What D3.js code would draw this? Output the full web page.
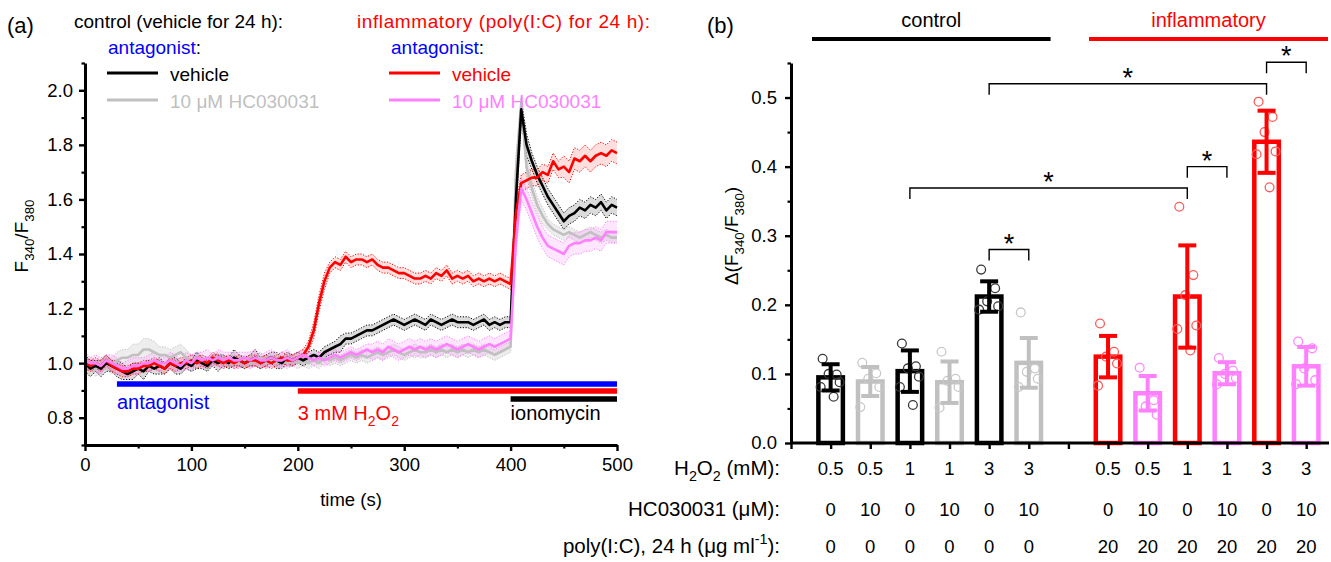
<!DOCTYPE html>
<html>
<head>
<meta charset="utf-8">
<script src="https://cdn.jsdelivr.net/npm/d3@7"></script>
<style>
body { margin: 0; background: #fff; }
svg { font-family: "Liberation Sans", Arial, sans-serif; }
</style>
</head>
<body>
<svg id="fig" width="1331" height="562"></svg>
<script>
// ---------- panel (a): time course, sampled every 5 s ----------
const times = d3.range(0, 501, 5);

const ctrlVeh = [
  1.00,0.98,0.99,0.98,1.00,0.99,0.98,0.97,0.96,0.97,
  0.98,0.97,0.99,0.98,0.99,0.98,1.00,0.99,0.98,1.00,
  0.99,1.01,1.00,0.99,1.01,1.00,1.01,1.00,1.02,1.01,
  1.00,1.01,1.02,1.00,1.01,1.02,1.01,1.00,1.02,1.01,
  1.02,1.01,1.02,1.03,1.02,1.04,1.05,1.06,1.07,1.09,
  1.09,1.10,1.11,1.12,1.12,1.13,1.14,1.15,1.16,1.15,
  1.14,1.15,1.16,1.15,1.14,1.16,1.15,1.14,1.15,1.16,
  1.15,1.15,1.15,1.14,1.15,1.16,1.14,1.15,1.14,1.15,
  1.15,1.60,1.93,1.80,1.74,1.69,1.65,1.61,1.58,1.55,
  1.52,1.54,1.55,1.57,1.56,1.58,1.57,1.59,1.56,1.58,
  1.57];
const ctrlVehSem = [
  .03,.03,.02,.03,.03,.02,.03,.03,.02,.03,
  .02,.03,.02,.02,.03,.02,.02,.03,.02,.02,
  .02,.03,.02,.02,.02,.03,.02,.02,.03,.02,
  .02,.02,.03,.02,.02,.02,.03,.02,.02,.02,
  .02,.02,.02,.02,.02,.02,.02,.02,.03,.02,
  .02,.02,.02,.02,.02,.02,.02,.02,.02,.02,
  .02,.02,.02,.02,.02,.02,.02,.02,.02,.02,
  .02,.02,.02,.02,.02,.02,.02,.02,.02,.02,
  .02,.05,.04,.04,.03,.03,.03,.03,.03,.03,
  .03,.03,.03,.03,.03,.03,.03,.03,.03,.03,
  .03];

const ctrlHC = [
  0.99,1.00,0.98,0.99,1.00,0.99,1.01,1.02,1.02,1.03,
  1.03,1.05,1.05,1.04,1.03,1.03,1.02,1.03,1.04,1.02,
  1.01,1.02,1.01,1.00,1.01,1.02,1.01,1.00,1.01,1.00,
  1.01,1.00,1.01,1.02,1.00,1.01,1.00,1.01,1.00,1.01,
  1.00,1.01,1.00,1.01,1.00,1.02,1.01,1.02,1.01,1.02,
  1.03,1.02,1.03,1.02,1.03,1.04,1.03,1.04,1.05,1.04,
  1.03,1.04,1.05,1.04,1.04,1.05,1.04,1.05,1.04,1.05,
  1.04,1.05,1.04,1.05,1.04,1.05,1.04,1.03,1.04,1.05,
  1.06,1.70,1.95,1.72,1.64,1.58,1.54,1.51,1.49,1.48,
  1.47,1.48,1.47,1.46,1.47,1.48,1.47,1.46,1.47,1.46,
  1.46];
const ctrlHCSem = [
  .02,.02,.03,.02,.02,.03,.03,.03,.03,.04,
  .04,.04,.04,.04,.03,.03,.03,.03,.03,.03,
  .02,.02,.02,.02,.02,.02,.02,.02,.02,.02,
  .02,.02,.02,.02,.02,.02,.02,.02,.02,.02,
  .02,.02,.02,.02,.02,.02,.02,.02,.02,.02,
  .02,.02,.02,.02,.02,.02,.02,.02,.02,.02,
  .02,.02,.02,.02,.02,.02,.02,.02,.02,.02,
  .02,.02,.02,.02,.02,.02,.02,.02,.02,.02,
  .02,.06,.03,.04,.03,.03,.03,.02,.02,.02,
  .02,.02,.02,.02,.02,.02,.02,.02,.02,.02,
  .02];

const inflVeh = [
  1.00,0.99,1.00,0.99,1.01,0.99,0.98,0.97,0.97,0.98,
  0.98,0.99,0.99,1.00,0.99,0.98,1.00,0.99,1.00,1.00,
  1.01,1.00,1.01,1.00,1.02,1.01,1.00,1.01,1.00,1.01,
  1.00,1.01,1.01,1.00,1.01,1.00,1.01,1.02,1.01,1.01,
  1.02,1.03,1.06,1.12,1.22,1.30,1.35,1.37,1.36,1.39,
  1.37,1.38,1.38,1.37,1.38,1.36,1.35,1.35,1.34,1.33,
  1.33,1.32,1.31,1.31,1.32,1.31,1.33,1.32,1.34,1.31,
  1.32,1.31,1.32,1.30,1.31,1.30,1.31,1.30,1.31,1.30,
  1.29,1.55,1.66,1.67,1.68,1.68,1.70,1.69,1.74,1.71,
  1.72,1.70,1.75,1.74,1.76,1.74,1.76,1.77,1.76,1.78,
  1.77];
const inflVehSem = [
  .02,.02,.02,.02,.02,.02,.02,.02,.02,.02,
  .02,.02,.02,.02,.02,.02,.02,.02,.02,.02,
  .02,.02,.02,.02,.02,.02,.02,.02,.02,.02,
  .02,.02,.02,.02,.02,.02,.02,.02,.02,.02,
  .02,.02,.02,.03,.03,.03,.02,.02,.02,.02,
  .02,.02,.02,.02,.02,.02,.02,.02,.02,.02,
  .02,.02,.02,.02,.02,.02,.02,.02,.02,.02,
  .02,.02,.02,.02,.02,.02,.02,.02,.02,.02,
  .02,.04,.03,.03,.03,.03,.03,.03,.03,.03,
  .04,.04,.04,.04,.04,.04,.04,.04,.04,.04,
  .04];

const inflHC = [
  1.01,1.00,1.00,0.99,1.01,1.00,0.99,0.98,0.98,0.99,
  0.99,1.00,1.00,1.01,1.00,1.00,1.01,1.00,0.99,1.01,
  1.00,1.02,1.01,1.02,1.01,1.02,1.01,1.02,1.01,1.01,
  1.02,1.01,1.02,1.01,1.01,1.02,1.01,1.01,1.02,1.01,
  1.02,1.03,1.02,1.01,1.02,1.01,1.02,1.03,1.02,1.03,
  1.04,1.03,1.04,1.05,1.04,1.05,1.04,1.06,1.05,1.04,
  1.05,1.06,1.05,1.06,1.05,1.06,1.05,1.06,1.07,1.06,
  1.05,1.06,1.07,1.06,1.05,1.06,1.07,1.06,1.07,1.08,
  1.09,1.45,1.64,1.60,1.55,1.50,1.46,1.43,1.42,1.41,
  1.40,1.43,1.44,1.44,1.45,1.45,1.46,1.45,1.48,1.48,
  1.48];
const inflHCSem = [
  .03,.02,.03,.03,.02,.03,.03,.02,.03,.03,
  .03,.02,.03,.03,.03,.02,.03,.03,.02,.03,
  .03,.02,.03,.03,.02,.03,.03,.02,.03,.03,
  .02,.03,.03,.02,.03,.03,.02,.03,.03,.02,
  .02,.02,.02,.02,.02,.02,.02,.02,.02,.02,
  .02,.02,.02,.02,.03,.03,.03,.03,.03,.03,
  .03,.03,.03,.03,.03,.03,.03,.03,.03,.03,
  .03,.03,.03,.03,.03,.03,.03,.03,.03,.03,
  .03,.05,.04,.04,.04,.04,.04,.04,.04,.04,
  .04,.04,.04,.04,.04,.04,.04,.04,.04,.04,
  .04];

const legendNames = ["vehicle", "10 \u03bcM HC030031"];
const treatLabels = ["antagonist", "3 mM H2O2", "ionomycin"];
const treatStart = [30, 200, 400];
const treatEnd = [500, 500, 500];

// ---------- panel (b): bars ----------
const h2o2 = ["0.5","0.5","1","1","3","3","0.5","0.5","1","1","3","3"];
const hcDose = ["0","10","0","10","0","10","0","10","0","10","0","10"];
const polyIC = ["0","0","0","0","0","0","20","20","20","20","20","20"];
const barMeans = [0.095,0.089,0.104,0.088,0.212,0.116,0.125,0.072,0.212,0.101,0.436,0.111];
const barErr   = [0.019,0.021,0.030,0.030,0.022,0.036,0.030,0.025,0.074,0.016,0.045,0.028];
const barPoints = [
  [0.122,0.099,0.100,0.088,0.081,0.067],
  [0.116,0.101,0.093,0.081,0.052],
  [0.144,0.111,0.108,0.096,0.081,0.055],
  [0.132,0.093,0.090,0.081,0.051],
  [0.251,0.224,0.205,0.198,0.193],
  [0.189,0.108,0.103,0.093,0.081],
  [0.173,0.132,0.125,0.115,0.083],
  [0.109,0.062,0.053,0.041],
  [0.342,0.243,0.214,0.170,0.165,0.134],
  [0.123,0.105,0.100,0.094,0.085],
  [0.494,0.472,0.450,0.422,0.418,0.370],
  [0.147,0.137,0.108,0.091,0.085]
];
// significance: [bar index a, bar index b, level]
const sigPairs = [[4,5,0.28],[2,8,0.369],[8,9,0.40],[4,10,0.52],[10,11,0.551]];

const BLACK = "#000", GRAY = "#c0c0c0", RED = "#ff0000", PINK = "#ff80ff";
const FS = 19;     // legend text
const TS = 18.5;   // tick labels

const svg = d3.select("#fig");

function rich(sel, parts, size) {
  let shift = 0;
  parts.forEach(([s, k]) => {
    const target = k === "sub" ? size * 0.3 : k === "sup" ? -size * 0.42 : 0;
    sel.append("tspan")
      .attr("dy", target - shift)
      .attr("font-size", k ? size * 0.7 : size)
      .text(s);
    shift = target;
  });
}

function styleAxis(g, w) {
  g.attr("font-family", null).attr("font-size", TS);
  g.select(".domain").attr("stroke-width", w);
  g.selectAll(".tick line").attr("stroke-width", 2.4);
  g.selectAll(".tick text").attr("fill", "#000");
}

// ================= panel (a) =================
const xA = d3.scaleLinear().domain([0, 500]).range([85, 617]);
const yA = d3.scaleLinear().domain([0.7, 2.1]).range([445, 63]);
const gA = svg.append("g");

const series = [
  {mean: ctrlHC,  sem: ctrlHCSem,  color: GRAY,  fill: "rgba(190,190,190,0.28)"},
  {mean: ctrlVeh, sem: ctrlVehSem, color: BLACK, fill: "rgba(0,0,0,0.14)"},
  {mean: inflVeh, sem: inflVehSem, color: RED,   fill: "rgba(255,0,0,0.13)"},
  {mean: inflHC,  sem: inflHCSem,  color: PINK,  fill: "rgba(255,128,255,0.2)"}
];

series.forEach(s => {
  const pts = times.map((t, i) => ({t, m: s.mean[i], e: s.sem[i]}));
  gA.append("path").datum(pts)
    .attr("fill", s.fill)
    .attr("d", d3.area().x(d => xA(d.t)).y0(d => yA(d.m - d.e)).y1(d => yA(d.m + d.e)));
  [-1, 1].forEach(sg => {
    gA.append("path").datum(pts)
      .attr("fill", "none").attr("stroke", s.color)
      .attr("stroke-width", 1).attr("stroke-dasharray", "1.2,1.6")
      .attr("d", d3.line().x(d => xA(d.t)).y(d => yA(d.m + sg * d.e)));
  });
});
series.forEach(s => {
  gA.append("path").datum(times.map((t, i) => [t, s.mean[i]]))
    .attr("fill", "none").attr("stroke", s.color)
    .attr("stroke-width", 2.6).attr("stroke-linejoin", "round")
    .attr("d", d3.line().x(d => xA(d[0])).y(d => yA(d[1])));
});

// treatment bars
const treatColors = ["#0000ff", RED, BLACK];
const treatY = [384, 391, 399];
treatLabels.forEach((lab, i) => {
  gA.append("line")
    .attr("x1", xA(treatStart[i])).attr("x2", xA(treatEnd[i]))
    .attr("y1", treatY[i]).attr("y2", treatY[i])
    .attr("stroke", treatColors[i]).attr("stroke-width", 5.5);
});
gA.append("text").attr("x", xA(treatStart[0])).attr("y", 409)
  .attr("font-size", 20).attr("fill", "#0000ff").text(treatLabels[0]);
rich(gA.append("text").attr("x", xA(treatStart[1])).attr("y", 420).attr("fill", RED),
  [["3 mM H"], ["2", "sub"], ["O"], ["2", "sub"]], 20);
gA.append("text").attr("x", xA(treatStart[2])).attr("y", 420)
  .attr("font-size", 20).attr("fill", BLACK).text(treatLabels[2]);

// axes
gA.append("g").attr("transform", "translate(0,445)")
  .call(d3.axisBottom(xA).tickValues([50,150,250,350,450]).tickSize(3.5).tickFormat("").tickSizeOuter(0))
  .call(g => g.select(".domain").remove())
  .call(g => g.selectAll(".tick line").attr("stroke-width", 2.2));
gA.append("g").attr("transform", "translate(0,445)")
  .call(d3.axisBottom(xA).tickValues([0,100,200,300,400,500]).tickSize(6).tickPadding(7).tickSizeOuter(0))
  .call(g => styleAxis(g, 3));
gA.append("g").attr("transform", "translate(85,0)")
  .call(d3.axisLeft(yA).tickValues([0.7,0.9,1.1,1.3,1.5,1.7,1.9,2.1]).tickSize(3.5).tickFormat("").tickSizeOuter(0))
  .call(g => g.select(".domain").remove())
  .call(g => g.selectAll(".tick line").attr("stroke-width", 2.2));
gA.append("g").attr("transform", "translate(85,0)")
  .call(d3.axisLeft(yA).tickValues([0.8,1.0,1.2,1.4,1.6,1.8,2.0]).tickSize(6).tickPadding(6)
    .tickFormat(d3.format(".1f")).tickSizeOuter(0))
  .call(g => styleAxis(g, 3));

gA.append("text").attr("x", 351).attr("y", 506).attr("text-anchor", "middle")
  .attr("font-size", TS).text("time (s)");
rich(gA.append("text").attr("transform", "translate(28,236) rotate(-90)").attr("text-anchor", "middle"),
  [["F"], ["340", "sub"], ["/F"], ["380", "sub"]], FS);

// legend
svg.append("text").attr("x", 7).attr("y", 33).attr("font-size", 22).text("(a)");
svg.append("text").attr("x", 74).attr("y", 28).attr("font-size", FS).text("control (vehicle for 24 h):");
svg.append("text").attr("x", 357).attr("y", 28).attr("font-size", FS).attr("fill", RED)
  .attr("textLength", 293).text("inflammatory (poly(I:C) for 24 h):");
[108, 391].forEach(x => {
  const t = svg.append("text").attr("x", x).attr("y", 54).attr("font-size", FS);
  t.append("tspan").attr("fill", "#0000ff").text("antagonist");
  t.append("tspan").attr("fill", "#000").text(":");
});
const legCols = [[BLACK, GRAY], [RED, PINK]];
const legX = [107, 389];
const legY = [73, 100];
legCols.forEach((cols, c) => {
  cols.forEach((col, r) => {
    svg.append("line").attr("x1", legX[c]).attr("x2", legX[c] + 51)
      .attr("y1", legY[r]).attr("y2", legY[r])
      .attr("stroke", col).attr("stroke-width", 3);
    svg.append("text").attr("x", legX[c] + 63).attr("y", legY[r] + 8)
      .attr("font-size", FS).attr("fill", col).text(legendNames[r]);
  });
});

// ================= panel (b) =================
const xB = d3.scaleLinear().domain([0, 13.5]).range([791, 1326]);
const yB = d3.scaleLinear().domain([0, 0.55]).range([443, 63]);
const gB = svg.append("g");
const barPos = barMeans.map((_, i) => i < 6 ? i + 1 : i + 2);
const barColor = barMeans.map((_, i) => [BLACK, GRAY, RED, PINK][(i < 6 ? 0 : 2) + (i % 2)]);
const dotColor = barMeans.map((_, i) => ["#3a3a3a", "#c8c8c8", "#ff5a5a", "#ff88ff"][(i < 6 ? 0 : 2) + (i % 2)]);
const jitter = [-8, 6, -2, 9, -10, 3];

gB.selectAll(".bar").data(barMeans).enter().append("rect")
  .attr("x", (d, i) => xB(barPos[i]) - 12.25)
  .attr("width", 24.5)
  .attr("y", d => yB(d))
  .attr("height", d => yB(0) - yB(d))
  .attr("fill", "#fff")
  .attr("stroke", (d, i) => barColor[i])
  .attr("stroke-width", 4.5);

barPoints.forEach((pts, i) => {
  gB.selectAll(null).data(pts).enter().append("circle")
    .attr("cx", (d, j) => xB(barPos[i]) + jitter[j % jitter.length])
    .attr("cy", d => yB(d))
    .attr("r", 4.4)
    .attr("fill", "none")
    .attr("stroke", dotColor[i])
    .attr("stroke-width", 1.3);
});

barMeans.forEach((m, i) => {
  const cx = xB(barPos[i]);
  const c = barColor[i];
  gB.append("line").attr("x1", cx).attr("x2", cx)
    .attr("y1", yB(m - barErr[i])).attr("y2", yB(m + barErr[i]))
    .attr("stroke", c).attr("stroke-width", 4);
  [m - barErr[i], m + barErr[i]].forEach(v => {
    gB.append("line").attr("x1", cx - 9).attr("x2", cx + 9)
      .attr("y1", yB(v)).attr("y2", yB(v))
      .attr("stroke", c).attr("stroke-width", 4);
  });
});

// significance brackets
sigPairs.forEach(([a, b, lvl]) => {
  const x1 = xB(barPos[a]), x2 = xB(barPos[b]), y = yB(lvl);
  gB.append("path")
    .attr("d", `M${x1},${y + 11}V${y}H${x2}V${y + 11}`)
    .attr("fill", "none").attr("stroke", "#000").attr("stroke-width", 1.4);
  gB.append("text").attr("x", (x1 + x2) / 2).attr("y", y + 3)
    .attr("text-anchor", "middle").attr("font-size", 27).text("*");
});

// axes
gB.append("g").attr("transform", "translate(0,443)")
  .call(d3.axisBottom(xB).tickValues(d3.range(0, 14)).tickSize(6).tickFormat("").tickSizeOuter(0))
  .call(g => styleAxis(g, 3))
  .call(g => g.select(".domain").attr("d", "M791,0H1329"));
gB.append("g").attr("transform", "translate(791,0)")
  .call(d3.axisLeft(yB).tickValues([0.05,0.15,0.25,0.35,0.45,0.55]).tickSize(3.5).tickFormat("").tickSizeOuter(0))
  .call(g => g.select(".domain").remove())
  .call(g => g.selectAll(".tick line").attr("stroke-width", 2.2));
gB.append("g").attr("transform", "translate(791,0)")
  .call(d3.axisLeft(yB).tickValues([0,0.1,0.2,0.3,0.4,0.5]).tickSize(6).tickPadding(8)
    .tickFormat(d3.format(".1f")).tickSizeOuter(0))
  .call(g => styleAxis(g, 3));

rich(gB.append("text").attr("transform", "translate(738,236) rotate(-90)").attr("text-anchor", "middle"),
  [["\u0394(F"], ["340", "sub"], ["/F"], ["380", "sub"], [")"]], FS);

svg.append("text").attr("x", 707).attr("y", 33).attr("font-size", 22).text("(b)");

// group headers
const groups = [["control", BLACK, 0.53, 6.55], ["inflammatory", RED, 7.52, 13.55]];
groups.forEach(([lab, col, a, b]) => {
  svg.append("line").attr("x1", xB(a)).attr("x2", xB(b)).attr("y1", 39).attr("y2", 39)
    .attr("stroke", col).attr("stroke-width", 4);
  svg.append("text").attr("x", (xB(a) + xB(b)) / 2).attr("y", 27)
    .attr("text-anchor", "middle").attr("font-size", 20).attr("fill", col).text(lab);
});

// condition table
const rowY = [475, 516, 553];
const LS = 20.5;
rich(svg.append("text").attr("x", 780).attr("y", rowY[0]).attr("text-anchor", "end"),
  [["H"], ["2", "sub"], ["O"], ["2", "sub"], [" (mM):"]], LS);
svg.append("text").attr("x", 780).attr("y", rowY[1]).attr("text-anchor", "end")
  .attr("font-size", LS).text("HC030031 (\u03bcM):");
rich(svg.append("text").attr("x", 780).attr("y", rowY[2]).attr("text-anchor", "end"),
  [["poly(I:C), 24 h (\u03bcg ml"], ["-1", "sup"], ["):"]], LS);
[h2o2, hcDose, polyIC].forEach((row, r) => {
  svg.selectAll(null).data(row).enter().append("text")
    .attr("x", (d, i) => xB(barPos[i]))
    .attr("y", rowY[r])
    .attr("text-anchor", "middle")
    .attr("font-size", 18.5)
    .text(d => d);
});
</script>
</body>
</html>
